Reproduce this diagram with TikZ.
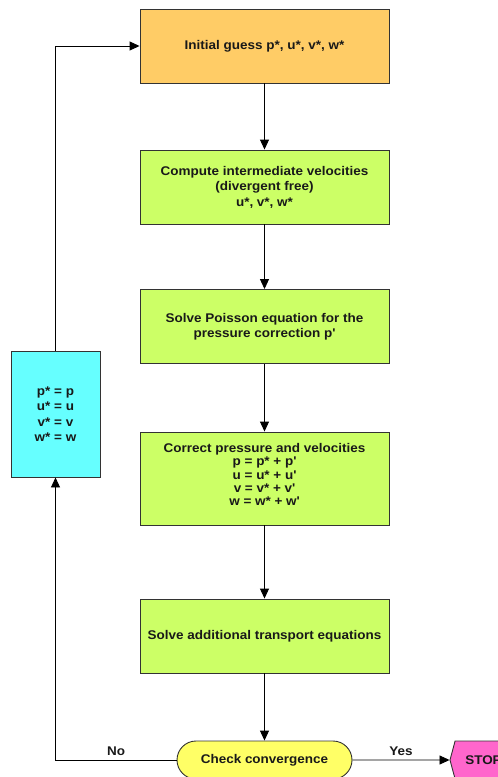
\documentclass[tikz,border=0pt]{standalone}
\usepackage{fontspec}
\setmainfont[FakeStretch=1.07]{Liberation Sans}
\usetikzlibrary{arrows.meta,shapes.misc,shapes.symbols}
\definecolor{guessfill}{HTML}{FFCC66}
\definecolor{stepfill}{HTML}{CCFF66}
\definecolor{updfill}{HTML}{66FFFF}
\definecolor{checkfill}{HTML}{FFFF66}
\definecolor{stopfill}{HTML}{FF66CC}
\definecolor{edgegray}{HTML}{333333}
\newcommand{\prm}{\textquotesingle}
\begin{document}
\begin{tikzpicture}[x=1pt,y=-1pt,
  every node/.style={font=\bfseries\fontsize{12.6}{15.5}\selectfont, text=black!90, align=center},
  tight/.style={font=\bfseries\fontsize{12.6}{13.3}\selectfont},
  stepbox/.style={rectangle, draw=edgegray, line width=0.9pt, minimum width=249pt, minimum height=74pt, inner sep=0pt},
  flow/.style={draw=black, line width=0.9pt, -{Triangle[length=10pt,width=9pt]}},
  lbl/.style={above, inner sep=4pt}
]
\useasboundingbox (0,0) rectangle (498,777);
\clip (0,0) rectangle (498,777);

% main chain of steps
\node[stepbox, fill=guessfill] (guess) at (264.5,46) {Initial guess p*, u*, v*, w*};
\node[stepbox, fill=stepfill] (inter) at (264.5,187) {Compute intermediate velocities\\(divergent free)\\u*, v*, w*};
\node[stepbox, fill=stepfill] (poisson) at (264.5,326.5) {Solve Poisson equation for the\\pressure correction p\prm};
\node[stepbox, fill=stepfill, minimum height=93pt] (correct) at (264.5,478.5) {};
\node[tight] (correcttext) at (264.5,474.5) {Correct pressure and velocities\\p = p* + p\prm\\u = u* + u\prm\\v = v* + v\prm\\w = w* + w\prm};
\node[stepbox, fill=stepfill] (transport) at (264.5,636) {Solve additional transport equations};

% convergence test and exit
\node[rounded rectangle, draw=edgegray, line width=0.9pt, fill=checkfill, minimum width=175pt, minimum height=38pt, inner sep=0pt] (check) at (264.5,760) {Check convergence};
\node[signal, signal to=west and east, signal pointer angle=150, draw=edgegray, line width=0.9pt, fill=stopfill, minimum width=67pt, minimum height=38pt, inner sep=0pt] (stop) at (483.5,760) {STOP};

% update of the guessed fields
\node[rectangle, draw=edgegray, line width=0.9pt, fill=updfill, minimum width=89pt, minimum height=126pt, inner sep=0pt] (update) at (55.5,414) {p* = p\\u* = u\\v* = v\\w* = w};

% connectors
\draw[flow] (guess) -- (inter);
\draw[flow] (inter) -- (poisson);
\draw[flow] (poisson) -- (correct);
\draw[flow] (correct) -- (transport);
\draw[flow] (transport) -- (check);
\draw[flow] (check) -- node[lbl] {Yes} (stop);
\draw[flow] (check.west) -- node[lbl] {No} (update.south |- check.west) -- (update.south);
\draw[flow] (update.north) -- (update.north |- guess.west) -- (guess.west);
\end{tikzpicture}
\end{document}
